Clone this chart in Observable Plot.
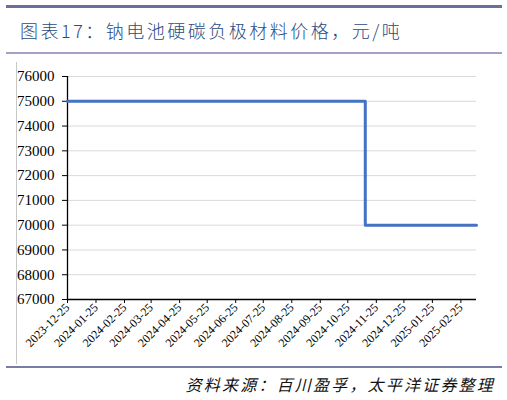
<!DOCTYPE html>
<html><head><meta charset="utf-8">
<script src="https://cdn.jsdelivr.net/npm/d3@7"></script>
<script src="https://cdn.jsdelivr.net/npm/@observablehq/plot@0.6"></script>
<style>
body{margin:0;background:#fff;width:507px;height:400px;overflow:hidden;position:relative;font-family:"Noto Sans CJK SC","Noto Sans",sans-serif}
#topline{position:absolute;left:6px;top:5px;width:496px;height:3px;background:#6E6E9E}
#title{position:absolute;left:20px;top:20px;font-size:18px;line-height:20px;font-weight:300;color:#2C4B80;letter-spacing:2.5px;white-space:nowrap}
#subline{position:absolute;left:6px;top:52px;width:496px;height:2px;background:#A3A3C8}
#leftline{position:absolute;left:16px;top:62px;width:1px;height:302px;background:#C8C8C8}
#chart{position:absolute;left:0;top:58px}
#footline{position:absolute;left:6px;top:366px;width:496px;height:2px;background:#7B7BA8}
#foot{position:absolute;right:12px;top:375px;font-size:16px;line-height:18px;font-style:italic;font-weight:400;letter-spacing:2.2px;color:#111;white-space:nowrap}
</style></head>
<body>
<div id="topline"></div>
<div id="title">图表17：钠电池硬碳负极材料价格，元/吨</div>
<div id="subline"></div>
<div id="leftline"></div>
<div id="chart"></div>
<div id="footline"></div>
<div id="foot">资料来源：百川盈孚，太平洋证券整理</div>
<script>
const dates = ["2023-12-25", "2024-11-13", "2025-03-14"];
const prices = [75000, 70000, 70000];
const xTickLabels = ["2023-12-25","2024-01-25","2024-02-25","2024-03-25","2024-04-25","2024-05-25","2024-06-25","2024-07-25","2024-08-25","2024-09-25","2024-10-25","2024-11-25","2024-12-25","2025-01-25","2025-02-25"];
const yTicks = [67000,68000,69000,70000,71000,72000,73000,74000,75000,76000];
const xStart = "2023-12-25";
const xEnd = "2025-03-14";

const parse = d3.utcParse("%Y-%m-%d");
const data = dates.map((d, i) => ({date: parse(d), price: prices[i]}));
const xTicks = xTickLabels.map(parse);

const chart = Plot.plot({
  width: 507,
  height: 307,
  marginTop: 18,
  marginBottom: 66,
  marginLeft: 67,
  marginRight: 31,
  style: {fontFamily: "'Liberation Serif', 'Times New Roman', serif", background: "transparent", color: "#000"},
  x: {type: "utc", domain: [parse(xStart), parse(xEnd)]},
  y: {domain: [yTicks[0], yTicks[yTicks.length - 1]]},
  marks: [
    Plot.gridY(yTicks.slice(1), {stroke: "#D9D9D9", strokeOpacity: 1, strokeWidth: 1}),
    Plot.axisY({ticks: yTicks, tickFormat: d3.format("d"), tickSize: 5, tickPadding: 8, fontSize: 15, stroke: "#000", label: null}),
    Plot.axisX({ticks: xTicks, tickFormat: d3.utcFormat("%Y-%m-%d"), tickRotate: -45, tickSize: 4, tickPadding: 2, fontSize: 12, stroke: "#000", label: null}),
    Plot.ruleY([yTicks[0]], {stroke: "#000", strokeWidth: 1.3}),
    Plot.ruleX([parse(xStart)], {stroke: "#000", strokeWidth: 1.3}),
    Plot.line(data, {x: "date", y: "price", curve: "step-after", stroke: "#4472C4", strokeWidth: 3})
  ]
});
document.getElementById("chart").append(chart);
</script>
</body></html>
